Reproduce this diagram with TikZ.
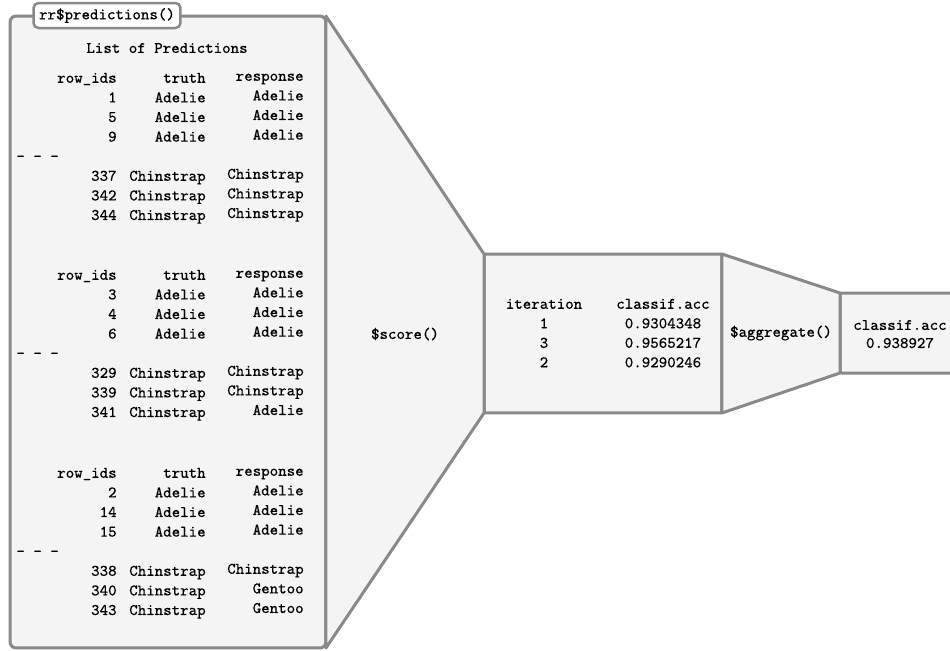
\documentclass[tikz,border=0pt]{standalone}
\usepackage{fontspec}
\setmonofont{Latin Modern Mono}[FakeBold=0.2]
\usepackage{tikz}
\definecolor{edgegray}{HTML}{898989}
\definecolor{panelfill}{HTML}{F4F4F4}

\begin{document}
\begin{tikzpicture}[x=0.02cm, y=0.02cm,
  panel/.style={draw=edgegray, fill=panelfill, line width=0.06cm, outer sep=0pt, inner sep=0pt, rounded corners=0.12cm},
  funnel/.style={draw=edgegray, fill=panelfill, line width=0.06cm, line join=round},
  txt/.style={font=\fontsize{9.2}{11}\selectfont\ttfamily, inner sep=0pt},
  cell/.style={txt, anchor=mid east}]
\useasboundingbox (0,0) rectangle (950,-650);

% panels
\node[panel, minimum width=6.32cm, minimum height=12.64cm] (preds) at (168,-332) {};
\node[panel, minimum width=4.76cm, minimum height=3.18cm, rounded corners=0.04cm] (scores) at (603,-333.5) {};
\node[panel, minimum width=2.8cm, minimum height=1.6cm, rounded corners=0.04cm] (aggr) at (910,-333) {};

% funnels between the panels
\draw[funnel] (preds.north east) -- (scores.north west) -- (scores.south west) -- (preds.south east) -- cycle;
\draw[funnel] (scores.north east) -- (aggr.north west) -- (aggr.south west) -- (scores.south east) -- cycle;

% title tab
\node[panel, txt, fill=white, minimum width=2.94cm, minimum height=0.5cm, rounded corners=0.1cm, line width=0.05cm] (title) at (107,-15.5) {rr\$predictions()};
\node[txt] (listhead) at (167,-48) {List of Predictions};

% first fold
\foreach \i/\rid/\tru/\resp in {0/row\_ids/truth/response, 1/1/Adelie/Adelie, 2/5/Adelie/Adelie, 3/9/Adelie/Adelie,
    5/337/Chinstrap/Chinstrap, 6/342/Chinstrap/Chinstrap, 7/344/Chinstrap/Chinstrap} {
  \node[cell] (id1-\i) at (117,-79-19.6*\i) {\rid};
  \node[cell] (tr1-\i) at (206,-79-19.6*\i) {\tru};
  \node[cell] (re1-\i) at (304,-77-19.6*\i) {\resp};
}
\node[txt, anchor=mid west] (gap1) at (16,-79-19.6*4) {- - -};

% second fold
\foreach \i/\rid/\tru/\resp in {0/row\_ids/truth/response, 1/3/Adelie/Adelie, 2/4/Adelie/Adelie, 3/6/Adelie/Adelie,
    5/329/Chinstrap/Chinstrap, 6/339/Chinstrap/Chinstrap, 7/341/Chinstrap/Adelie} {
  \node[cell] (id2-\i) at (117,-276-19.6*\i) {\rid};
  \node[cell] (tr2-\i) at (206,-276-19.6*\i) {\tru};
  \node[cell] (re2-\i) at (304,-274-19.6*\i) {\resp};
}
\node[txt, anchor=mid west] (gap2) at (16,-276-19.6*4) {- - -};

% third fold
\foreach \i/\rid/\tru/\resp in {0/row\_ids/truth/response, 1/2/Adelie/Adelie, 2/14/Adelie/Adelie, 3/15/Adelie/Adelie,
    5/338/Chinstrap/Chinstrap, 6/340/Chinstrap/Gentoo, 7/343/Chinstrap/Gentoo} {
  \node[cell] (id3-\i) at (117,-474-19.6*\i) {\rid};
  \node[cell] (tr3-\i) at (206,-474-19.6*\i) {\tru};
  \node[cell] (re3-\i) at (304,-472-19.6*\i) {\resp};
}
\node[txt, anchor=mid west] (gap3) at (16,-474-19.6*4) {- - -};

% scores table
\foreach \i/\itr/\accval in {0/iteration/classif.acc, 1/1/0.9304348, 2/3/0.9565217, 3/2/0.9290246} {
  \node[txt, anchor=mid] (itr-\i) at (544,-305-19.5*\i) {\itr};
  \node[txt, anchor=mid] (acc-\i) at (663,-305-19.5*\i) {\accval};
}

\node[txt] (score) at (405,-334) {\$score()};
\node[txt] (aggtxt) at (781,-333) {\$aggregate()};
\node[txt] (mean-0) at (900,-325) {classif.acc};
\node[txt] (mean-1) at (900,-343) {0.938927};
\end{tikzpicture}
\end{document}
